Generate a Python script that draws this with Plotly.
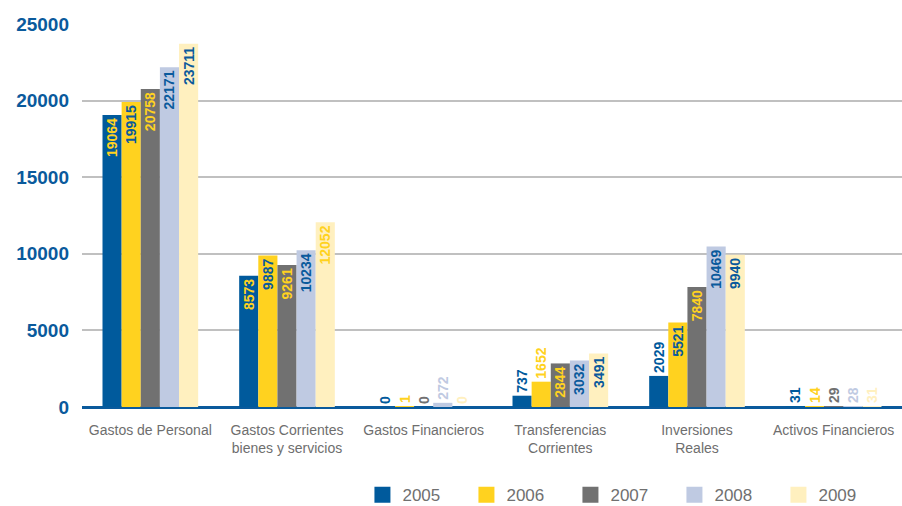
import plotly.graph_objects as go

categories = ["Gastos de Personal", "Gastos Corrientes<br>bienes y servicios", "Gastos Financieros",
              "Transferencias<br>Corrientes", "Inversiones<br>Reales", "Activos Financieros"]
years = ["2005", "2006", "2007", "2008", "2009"]
values = {
    "2005": [19064, 8573, 0, 737, 2029, 31],
    "2006": [19915, 9887, 1, 1652, 5521, 14],
    "2007": [20758, 9261, 0, 2844, 7840, 29],
    "2008": [22171, 10234, 272, 3032, 10469, 28],
    "2009": [23711, 12052, 0, 3491, 9940, 31],
}
y_ticks = [0, 5000, 10000, 15000, 20000, 25000]
bar_colors = {"2005": "#005a9c", "2006": "#ffd21f", "2007": "#717171", "2008": "#bfcae2", "2009": "#fff0bf"}
BLUE = "#0a5a9c"
YEL = "#ffd21f"
# label placement per bar ("in" = inside at top, "out" = above bar)
positions = {
    "2005": ["in", "in", "out", "out", "out", "out"],
    "2006": ["in", "in", "out", "out", "in", "out"],
    "2007": ["in", "in", "out", "in", "in", "out"],
    "2008": ["in", "in", "out", "in", "in", "out"],
    "2009": ["in", "in", "out", "in", "in", "out"],
}
inside_colors = {
    "2005": [YEL, YEL, YEL, YEL, YEL, YEL],
    "2006": [BLUE, BLUE, BLUE, BLUE, BLUE, BLUE],
    "2007": [YEL, YEL, YEL, YEL, YEL, YEL],
    "2008": [BLUE, BLUE, BLUE, BLUE, BLUE, BLUE],
    "2009": [BLUE, YEL, BLUE, BLUE, BLUE, BLUE],
}

fig = go.Figure()
for yr in years:
    vals = values[yr]
    tpos = ["inside" if p == "in" else "outside" for p in positions[yr]]
    tcol = [inside_colors[yr][i] if positions[yr][i] == "in" else bar_colors[yr] for i in range(len(vals))]
    fig.add_trace(go.Bar(
        x=categories, y=vals, name=yr,
        marker=dict(color=bar_colors[yr], line=dict(width=0)),
        text=[str(v) for v in vals], textposition=tpos, textangle=-90,
        insidetextanchor="end", constraintext="none", cliponaxis=False,
        textfont=dict(family="Liberation Sans, Arial, sans-serif", size=14, color=tcol, weight="bold"),
        showlegend=False,
    ))
    fig.add_trace(go.Scatter(
        x=[None], y=[None], mode="markers", name=yr,
        marker=dict(symbol="square", size=16, color=bar_colors[yr]),
        showlegend=True, hoverinfo="skip",
    ))

fig.update_layout(
    width=902, height=506,
    margin=dict(l=82, r=0, t=24, b=99, autoexpand=False),
    paper_bgcolor="white", plot_bgcolor="white",
    barmode="group", bargap=0.3, bargroupgap=0,
    font=dict(family="Liberation Sans, Arial, sans-serif"),
    legend=dict(orientation="h", x=0.342, xanchor="left", y=-0.23, yanchor="middle",
                font=dict(size=17, color="#707070"), itemwidth=30,
                entrywidth=59, entrywidthmode="pixels", traceorder="normal"),
    xaxis=dict(showgrid=False, showline=False, ticks="", ticklabelstandoff=13,
               tickfont=dict(size=14, color="#6e6e6e"), automargin=False),
    yaxis=dict(range=[0, 25000], tickvals=y_ticks, ticktext=[str(t) for t in y_ticks],
               showgrid=True, gridcolor="#c0c0c0", gridwidth=2,
               zeroline=True, zerolinecolor=BLUE, zerolinewidth=3,
               showline=False, ticks="", ticklabelstandoff=12, automargin=False,
               tickfont=dict(size=19, color=BLUE, weight="bold")),
)
fig.write_html("out.html", config={"displayModeBar": False},
               post_script="document.body.style.margin='0';document.body.style.overflow='hidden';")
